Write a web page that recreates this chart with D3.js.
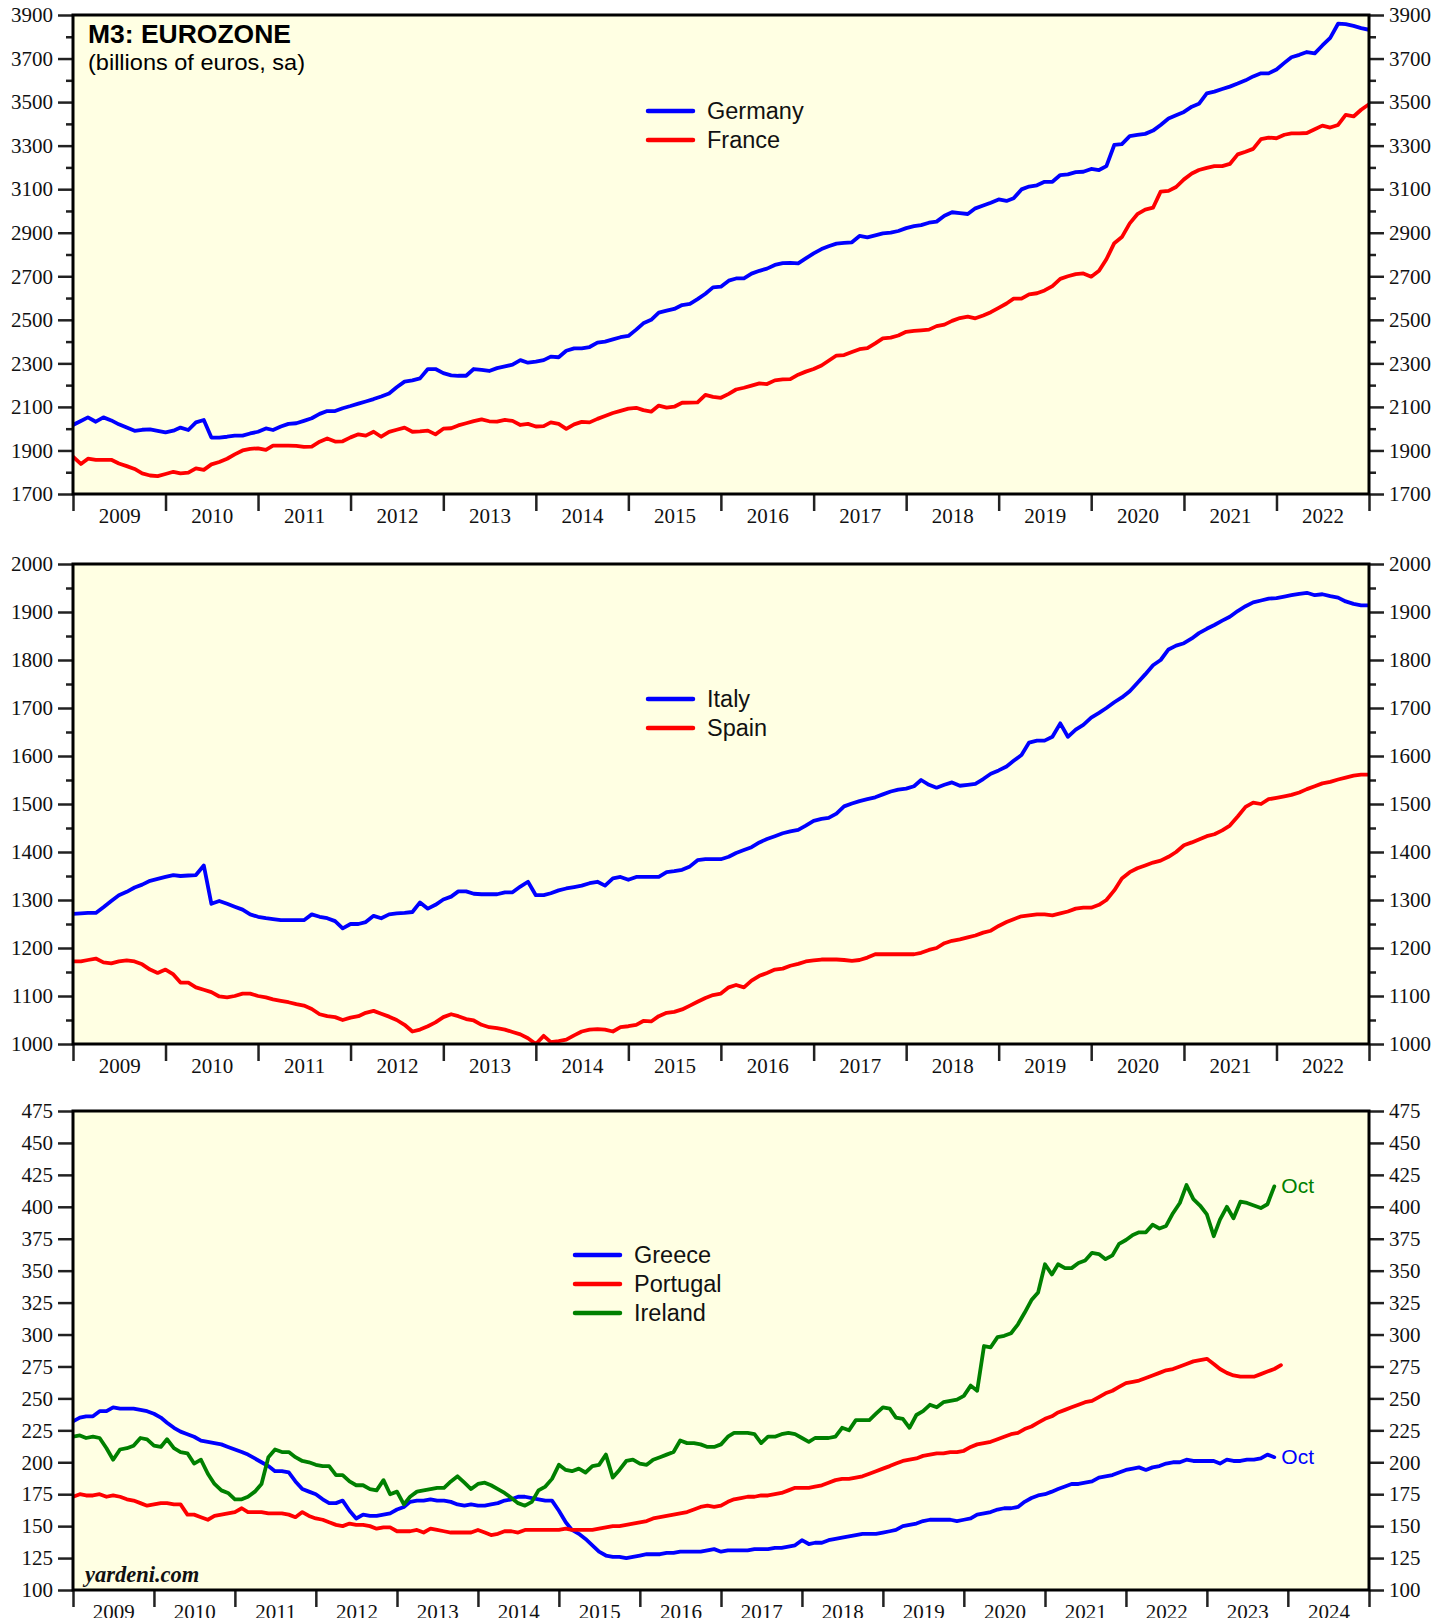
<!DOCTYPE html>
<html><head><meta charset="utf-8">
<script src="https://cdn.jsdelivr.net/npm/d3@7"></script>
<style>body{margin:0;background:#fff;} svg{display:block}</style>
</head><body>
<script>
// Monthly values, index 0 plotted at 2009-01-01
const germany = [2017,2035,2052,2032,2052,2038,2020,2005,1990,1995,
1997,1990,1983,1991,2005,1994,2029,2040,1959,1959,
1963,1968,1968,1978,1986,2001,1994,2010,2022,2025,
2036,2048,2068,2081,2081,2094,2104,2115,2125,2136,
2148,2162,2190,2216,2222,2231,2274,2274,2255,2245,
2243,2243,2274,2270,2265,2278,2286,2294,2315,2303,
2308,2315,2331,2328,2358,2369,2369,2375,2395,2400,
2410,2420,2426,2455,2484,2500,2533,2542,2550,2568,
2573,2595,2620,2649,2652,2680,2690,2690,2712,2725,
2735,2752,2760,2762,2759,2782,2805,2825,2838,2850,
2853,2856,2885,2879,2888,2897,2900,2908,2921,2930,
2935,2946,2951,2978,2994,2990,2986,3012,3025,3038,
3053,3046,3058,3099,3112,3118,3134,3134,3165,3168,
3178,3180,3193,3188,3206,3303,3307,3344,3349,3354,
3369,3395,3425,3440,3455,3479,3492,3540,3548,3560,
3571,3585,3600,3618,3632,3632,3650,3680,3706,3717,
3730,3724,3760,3795,3860,3858,3850,3840,3832];
const france = [1871,1838,1862,1857,1857,1857,1840,1828,1815,1795,
1785,1782,1792,1802,1795,1798,1818,1811,1836,1847,
1862,1882,1900,1907,1910,1903,1922,1922,1922,1921,
1916,1918,1940,1955,1941,1942,1960,1974,1968,1986,
1963,1985,1995,2005,1986,1988,1991,1974,2000,2002,
2015,2025,2035,2043,2034,2032,2040,2036,2017,2022,
2010,2012,2029,2022,1999,2020,2031,2029,2045,2058,
2072,2082,2092,2096,2085,2078,2106,2097,2101,2119,
2120,2121,2155,2146,2142,2160,2180,2188,2198,2208,
2205,2222,2226,2228,2248,2262,2274,2290,2312,2336,
2338,2352,2365,2370,2392,2415,2418,2428,2445,2449,
2452,2455,2471,2478,2495,2508,2515,2507,2520,2535,
2555,2575,2597,2597,2617,2622,2635,2655,2688,2700,
2710,2713,2698,2725,2778,2852,2880,2943,2985,3006,
3015,3089,3092,3110,3145,3172,3188,3198,3206,3206,
3216,3260,3272,3285,3330,3337,3334,3350,3356,3356,
3358,3375,3392,3383,3395,3441,3434,3465,3490];
const italy = [1271,1272,1273,1273,1285,1298,1310,1317,1326,1332,
1340,1344,1348,1352,1350,1351,1352,1372,1292,1298,
1292,1286,1280,1270,1265,1262,1260,1258,1258,1258,
1258,1270,1265,1262,1256,1241,1250,1250,1254,1267,
1262,1270,1272,1273,1275,1295,1282,1290,1301,1307,
1318,1318,1313,1312,1312,1312,1316,1316,1328,1338,
1310,1310,1314,1320,1324,1327,1330,1335,1338,1330,
1345,1348,1342,1348,1348,1348,1348,1358,1360,1363,
1370,1383,1385,1385,1385,1390,1398,1404,1410,1420,
1427,1433,1439,1443,1446,1455,1465,1469,1471,1480,
1495,1501,1506,1510,1514,1520,1526,1530,1532,1537,
1550,1540,1534,1540,1545,1538,1540,1542,1552,1563,
1570,1578,1590,1602,1628,1632,1632,1640,1668,1640,
1655,1665,1680,1690,1700,1712,1722,1735,1752,1770,
1789,1800,1822,1830,1835,1845,1856,1865,1873,1882,
1890,1902,1912,1920,1924,1928,1929,1932,1935,1938,
1940,1935,1937,1933,1930,1922,1917,1914,1914];
const spain = [1172,1172,1175,1178,1170,1168,1172,1174,1172,1166,
1155,1148,1155,1145,1128,1128,1118,1113,1108,1099,
1097,1100,1105,1105,1100,1097,1093,1090,1087,1083,
1080,1073,1062,1058,1056,1050,1055,1058,1065,1069,
1063,1057,1050,1040,1026,1030,1037,1045,1056,1062,
1058,1052,1049,1040,1035,1033,1030,1025,1020,1012,
1000,1017,1004,1006,1009,1018,1026,1030,1031,1030,
1026,1035,1037,1040,1048,1047,1058,1065,1067,1072,
1080,1088,1096,1102,1105,1118,1123,1118,1132,1142,
1148,1155,1157,1163,1167,1172,1174,1176,1176,1176,
1175,1173,1175,1180,1187,1187,1187,1187,1187,1187,
1190,1196,1200,1210,1215,1218,1222,1226,1232,1236,
1246,1254,1260,1266,1268,1270,1270,1268,1272,1276,
1282,1284,1284,1290,1300,1320,1345,1358,1366,1372,
1378,1382,1390,1400,1414,1420,1426,1433,1437,1445,
1455,1474,1494,1503,1500,1510,1513,1516,1519,1524,
1531,1537,1543,1546,1551,1555,1559,1561,1561];
const greece = [232,235,236,236,240,240,243,242,242,242,
241,240,238,235,231,227,224,222,220,217,
216,215,214,212,210,208,206,203,200,197,
193,193,192,185,179,177,175,171,168,168,
170,162,156,159,158,158,159,160,163,165,
169,170,170,171,170,170,169,167,166,167,
166,166,167,168,170,171,173,173,172,171,
170,170,162,153,147,144,140,135,130,127,
126,126,125,126,127,128,128,128,129,129,
130,130,130,130,131,132,130,131,131,131,
131,132,132,132,133,133,134,135,139,136,
137,137,139,140,141,142,143,144,144,144,
145,146,147,150,151,152,154,155,155,155,
155,154,155,156,159,160,161,163,164,164,
165,169,172,174,175,177,179,181,183,183,
184,185,188,189,190,192,194,195,196,194,
196,197,199,200,200,202,201,201,201,201,
199,202,201,201,202,202,203,206,204];
const portugal = [173,175,174,174,175,173,174,173,171,170,
168,166,167,168,168,167,167,159,159,157,
155,158,159,160,161,164,161,161,161,160,
160,160,159,157,161,158,156,155,153,151,
150,152,151,151,150,148,149,149,146,146,
146,147,145,148,147,146,145,145,145,145,
147,145,143,144,146,146,145,147,147,147,
147,147,147,148,147,147,147,147,148,149,
150,150,151,152,153,154,156,157,158,159,
160,161,163,165,166,165,166,169,171,172,
173,173,174,174,175,176,178,180,180,180,
181,182,184,186,187,187,188,189,191,193,
195,197,199,201,202,203,205,206,207,207,
208,208,209,212,214,215,216,218,220,222,
223,226,228,231,234,236,239,241,243,245,
247,248,251,254,256,259,262,263,264,266,
268,270,272,273,275,277,279,280,281,277,
273,270,268,267,267,267,269,271,273,276];
const ireland = [220,221,219,220,219,211,202,210,211,213,
219,218,213,212,218,211,208,207,199,202,
191,183,178,176,171,171,173,177,183,204,
210,208,208,204,201,200,198,197,197,190,
190,185,182,182,179,178,186,175,177,167,
173,177,178,179,180,180,185,189,184,179,
183,184,182,179,176,172,168,166,169,178,
181,187,198,194,193,195,192,197,198,206,
188,194,201,202,199,198,202,204,206,208,
217,215,215,214,212,212,214,220,223,223,
223,222,215,220,220,222,223,222,219,216,
219,219,219,220,227,225,233,233,233,238,
243,242,235,234,227,237,240,245,243,247,
248,249,252,260,256,291,290,298,299,301,
308,317,327,333,355,347,355,352,352,356,
358,364,363,359,362,371,374,378,380,380,
386,383,385,395,403,417,406,401,394,377,
390,400,391,404,403,401,399,402,416];

const p1Ticks = d3.range(1700, 3901, 200);
const p1Minor = d3.range(1800, 3900, 200);
const p2Ticks = d3.range(1000, 2001, 100);
const p2Minor = d3.range(1050, 2000, 100);
const p3Ticks = d3.range(100, 476, 25);
const p3Minor = [];

const W = 1450, H = 1618;
const L = 73, R = 1369;
const BG = "#FFFFE3";
const serif = "'Liberation Serif','Times New Roman',serif";
const sans = "'Liberation Sans',Arial,sans-serif";

const svg = d3.select("body").append("svg").attr("width", W).attr("height", H)
  .style("background", "#fff");

function dateOf(i){ return new Date(2009, i, 1); }

function panel(cfg, idx){
  const {top, bottom, domain, ticks, minor, endYear, series, legend} = cfg;
  const x = d3.scaleTime().domain([new Date(2009,0,1), new Date(endYear,0,1)]).range([L, R]);
  const y = d3.scaleLinear().domain(domain).range([bottom, top]);
  const g = svg.append("g");
  g.append("rect").attr("x", L).attr("y", top).attr("width", R-L).attr("height", bottom-top)
    .attr("fill", BG);
  const cid = "clip" + idx;
  svg.append("clipPath").attr("id", cid).append("rect")
    .attr("x", L).attr("y", top).attr("width", R-L).attr("height", bottom-top);

  const styleAxis = sel => {
    sel.select(".domain").remove();
    sel.selectAll(".tick line").attr("stroke", "#222").attr("stroke-width", 2.5);
    sel.selectAll(".tick text").attr("font-family", serif).attr("font-size", 21).attr("fill", "#111");
  };
  g.append("g").attr("transform", `translate(${L},0)`)
    .call(d3.axisLeft(y).tickValues(ticks).tickSize(15).tickPadding(5).tickFormat(d3.format("d")))
    .call(styleAxis);
  g.append("g").attr("transform", `translate(${R},0)`)
    .call(d3.axisRight(y).tickValues(ticks).tickSize(15).tickPadding(5).tickFormat(d3.format("d")))
    .call(styleAxis);
  if (minor.length){
    g.append("g").attr("transform", `translate(${L},0)`)
      .call(d3.axisLeft(y).tickValues(minor).tickSize(7).tickFormat(""))
      .call(styleAxis);
    g.append("g").attr("transform", `translate(${R},0)`)
      .call(d3.axisRight(y).tickValues(minor).tickSize(7).tickFormat(""))
      .call(styleAxis);
  }
  const years = d3.range(2009, endYear+1).map(yr => new Date(yr,0,1));
  g.append("g").attr("transform", `translate(0,${bottom})`)
    .call(d3.axisBottom(x).tickValues(years).tickSize(17).tickFormat(""))
    .call(styleAxis);
  const mids = d3.range(2009, endYear).map(yr => new Date(yr,6,2));
  g.append("g").attr("transform", `translate(0,${bottom})`)
    .call(d3.axisBottom(x).tickValues(mids).tickSize(0).tickPadding(14).tickFormat(d3.timeFormat("%Y")))
    .call(styleAxis);

  const line = d3.line().x((d,i) => x(dateOf(i))).y(d => y(d));
  const lg = g.append("g").attr("clip-path", `url(#${cid})`);
  series.forEach(s => {
    lg.append("path").datum(s.values).attr("d", line)
      .attr("fill", "none").attr("stroke", s.color).attr("stroke-width", 3.8)
      .attr("stroke-linejoin", "round").attr("stroke-linecap", "round");
    if (s.endLabel){
      const n = s.values.length - 1;
      g.append("text").attr("x", x(dateOf(n)) + 7).attr("y", y(s.values[n]) + 7)
        .attr("font-family", sans).attr("font-size", 21).attr("fill", s.color).text(s.endLabel);
    }
  });
  g.append("rect").attr("x", L).attr("y", top).attr("width", R-L).attr("height", bottom-top)
    .attr("fill", "none").attr("stroke", "#000").attr("stroke-width", 3);

  series.forEach((s, k) => {
    const yy = legend.y + k*29;
    g.append("line").attr("x1", legend.x).attr("x2", legend.x+45).attr("y1", yy).attr("y2", yy)
      .attr("stroke", s.color).attr("stroke-width", 4.5).attr("stroke-linecap", "round");
    g.append("text").attr("x", legend.x+59).attr("y", yy+8)
      .attr("font-family", sans).attr("font-size", 23.5).attr("fill", "#111").text(s.name);
  });
  return g;
}

const g1 = panel({top:15, bottom:494, domain:[1700,3900], ticks:p1Ticks, minor:p1Minor, endYear:2023,
  series:[{name:"Germany", values:germany, color:"#0000FF"},{name:"France", values:france, color:"#FF0000"}],
  legend:{x:648, y:111}}, 1);
g1.append("text").attr("x", 88).attr("y", 43).attr("font-family", sans).attr("font-weight", "bold")
  .attr("font-size", 25).attr("textLength", 203).attr("lengthAdjust", "spacingAndGlyphs")
  .attr("fill", "#000").text("M3: EUROZONE");
g1.append("text").attr("x", 88).attr("y", 70).attr("font-family", sans)
  .attr("font-size", 22).attr("textLength", 217).attr("lengthAdjust", "spacingAndGlyphs")
  .attr("fill", "#000").text("(billions of euros, sa)");

panel({top:564, bottom:1044, domain:[1000,2000], ticks:p2Ticks, minor:p2Minor, endYear:2023,
  series:[{name:"Italy", values:italy, color:"#0000FF"},{name:"Spain", values:spain, color:"#FF0000"}],
  legend:{x:648, y:699}}, 2);

const g3 = panel({top:1111, bottom:1590, domain:[100,475], ticks:p3Ticks, minor:p3Minor, endYear:2025,
  series:[{name:"Greece", values:greece, color:"#0000FF", endLabel:"Oct"},
          {name:"Portugal", values:portugal, color:"#FF0000"},
          {name:"Ireland", values:ireland, color:"#008000", endLabel:"Oct"}],
  legend:{x:575, y:1255}}, 3);
g3.append("text").attr("x", 85).attr("y", 1582).attr("font-family", serif).attr("font-weight", "bold")
  .attr("font-style", "italic").attr("font-size", 22.5).attr("fill", "#111").text("yardeni.com");
</script>
</body></html>
